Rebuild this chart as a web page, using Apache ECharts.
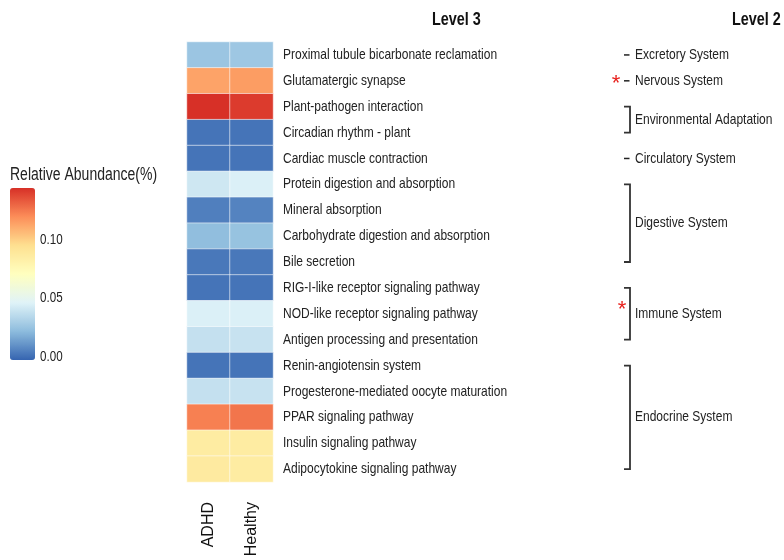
<!DOCTYPE html>
<html>
<head>
<meta charset="utf-8">
<script src="https://cdn.jsdelivr.net/npm/echarts@6/dist/echarts.min.js"></script>
<style>
  html, body { margin: 0; padding: 0; background: #ffffff; }
  #chart { width: 784px; height: 560px; }
</style>
</head>
<body>
<div id="chart"></div>
<script>
// Sample groups (columns) and KEGG level-3 pathways (rows, top to bottom)
const groups = ['ADHD', 'Healthy'];
const pathways = [
  'Proximal tubule bicarbonate reclamation',
  'Glutamatergic synapse',
  'Plant-pathogen interaction',
  'Circadian rhythm - plant',
  'Cardiac muscle contraction',
  'Protein digestion and absorption',
  'Mineral absorption',
  'Carbohydrate digestion and absorption',
  'Bile secretion',
  'RIG-I-like receptor signaling pathway',
  'NOD-like receptor signaling pathway',
  'Antigen processing and presentation',
  'Renin-angiotensin system',
  'Progesterone-mediated oocyte maturation',
  'PPAR signaling pathway',
  'Insulin signaling pathway',
  'Adipocytokine signaling pathway'
];

// Relative abundance (%) per pathway
const adhdValues    = [0.026, 0.113, 0.144, 0.002, 0.002, 0.041, 0.005, 0.023, 0.003, 0.002, 0.045, 0.038, 0.002, 0.038, 0.123, 0.086, 0.087];
const healthyValues = [0.027, 0.115, 0.141, 0.002, 0.002, 0.045, 0.006, 0.025, 0.003, 0.002, 0.045, 0.039, 0.002, 0.039, 0.126, 0.086, 0.086];

// KEGG level-2 groups: first and last pathway row of each group
const level2Names  = ['Excretory System', 'Nervous System', 'Environmental Adaptation', 'Circulatory System', 'Digestive System', 'Immune System', 'Endocrine System'];
const level2First  = [0, 1, 2, 4, 5, 9, 12];
const level2Last   = [0, 1, 3, 4, 8, 11, 16];
const level2Marked = [false, true, false, false, false, true, false];

// Colour scale
const scaleMin = -0.0025;
const scaleMax = 0.144;
const legendTicks = [0.00, 0.05, 0.10];
const palette = ['#3564B0', '#8DBCDD', '#E0F3F8', '#FFFFBF', '#FEE090', '#FC8D59', '#D73027'];

// Condensed look: regular sans squeezed horizontally
const sans = '"Liberation Sans", Arial, sans-serif';
const squeeze = 0.8;

const cells = [];
pathways.forEach(function (p, i) {
  cells.push([0, i, adhdValues[i]]);
  cells.push([1, i, healthyValues[i]]);
});

const chart = echarts.init(document.getElementById('chart'), null, { renderer: 'canvas' });

const bar = { left: 10, top: 188, width: 25, height: 172 };

chart.setOption({
  backgroundColor: '#ffffff',
  animation: false,
  grid: { left: 187, top: 42, width: 86, height: 440 },
  xAxis: {
    type: 'category',
    data: groups,
    position: 'bottom',
    axisLine: { show: false },
    axisTick: { show: false },
    splitLine: { show: false },
    axisLabel: { rotate: 90, margin: 20, fontSize: 16, color: '#111', fontFamily: sans }
  },
  yAxis: {
    type: 'category',
    data: pathways,
    inverse: true,
    position: 'right',
    axisLine: { show: false },
    axisTick: { show: false },
    splitLine: { show: false },
    axisLabel: { show: false }
  },
  visualMap: {
    type: 'continuous',
    min: scaleMin,
    max: scaleMax,
    calculable: false,
    text: null,
    padding: 0,
    left: bar.left,
    top: bar.top,
    itemWidth: bar.width,
    itemHeight: bar.height,
    inRange: { color: palette },
    textStyle: { color: 'transparent' }
  },
  series: [{
    type: 'heatmap',
    data: cells,
    itemStyle: { borderColor: 'rgba(255,255,255,0.55)', borderWidth: 1 },
    emphasis: { disabled: true }
  }]
});

function label(text, x, y, size, opts) {
  opts = opts || {};
  return {
    type: 'text',
    x: x, y: y,
    scaleX: squeeze,
    silent: true,
    style: {
      text: text,
      font: (opts.bold ? 'bold ' : '') + size + 'px ' + sans,
      fill: opts.color || '#222',
      verticalAlign: 'middle'
    }
  };
}

const g = [];
// Titles
g.push(label('Level 3', 432, 20, 18, { bold: true, color: '#111' }));
g.push(label('Level 2', 732, 20, 18, { bold: true, color: '#111' }));
g.push(label('Relative Abundance(%)', 10, 175, 17.5));

// Colour-bar ticks and labels
legendTicks.forEach(function (v) {
  const y = bar.top + (scaleMax - v) / (scaleMax - scaleMin) * bar.height;
  g.push({ type: 'line', silent: true, shape: { x1: bar.left, y1: y, x2: bar.left + 5, y2: y }, style: { stroke: '#ffffff', lineWidth: 1 } });
  g.push({ type: 'line', silent: true, shape: { x1: bar.left + bar.width - 5, y1: y, x2: bar.left + bar.width, y2: y }, style: { stroke: '#ffffff', lineWidth: 1 } });
  g.push(label(v.toFixed(2), 40, y, 14.5));
});

// Level-3 row labels, placed on the category axis positions
pathways.forEach(function (name, i) {
  const y = chart.convertToPixel({ yAxisIndex: 0 }, i);
  g.push(label(name, 283, y, 15));
});

// Level-2 group brackets and labels
const lineX = 630, tickX = 624, textX = 635;
level2Names.forEach(function (name, k) {
  const y0 = chart.convertToPixel({ yAxisIndex: 0 }, level2First[k]);
  const y1 = chart.convertToPixel({ yAxisIndex: 0 }, level2Last[k]);
  const mid = (y0 + y1) / 2;
  if (level2First[k] === level2Last[k]) {
    g.push({ type: 'line', silent: true, shape: { x1: 624, y1: mid, x2: 629.5, y2: mid }, style: { stroke: '#222', lineWidth: 1.5 } });
  } else {
    g.push({ type: 'polyline', silent: true, shape: { points: [[tickX, y0], [lineX, y0], [lineX, y1], [tickX, y1]] }, style: { stroke: '#333', lineWidth: 1.8, fill: null } });
  }
  g.push(label(name, textX, mid, 15));
  if (level2Marked[k]) {
    const single = level2First[k] === level2Last[k];
    g.push({ type: 'text', silent: true, x: single ? 616 : 622, y: single ? mid + 3 : mid - 4, style: { text: '*', font: '22px ' + sans, fill: '#e8211d', align: 'center', verticalAlign: 'middle' } });
  }
});

chart.setOption({ graphic: g });
</script>
</body>
</html>
